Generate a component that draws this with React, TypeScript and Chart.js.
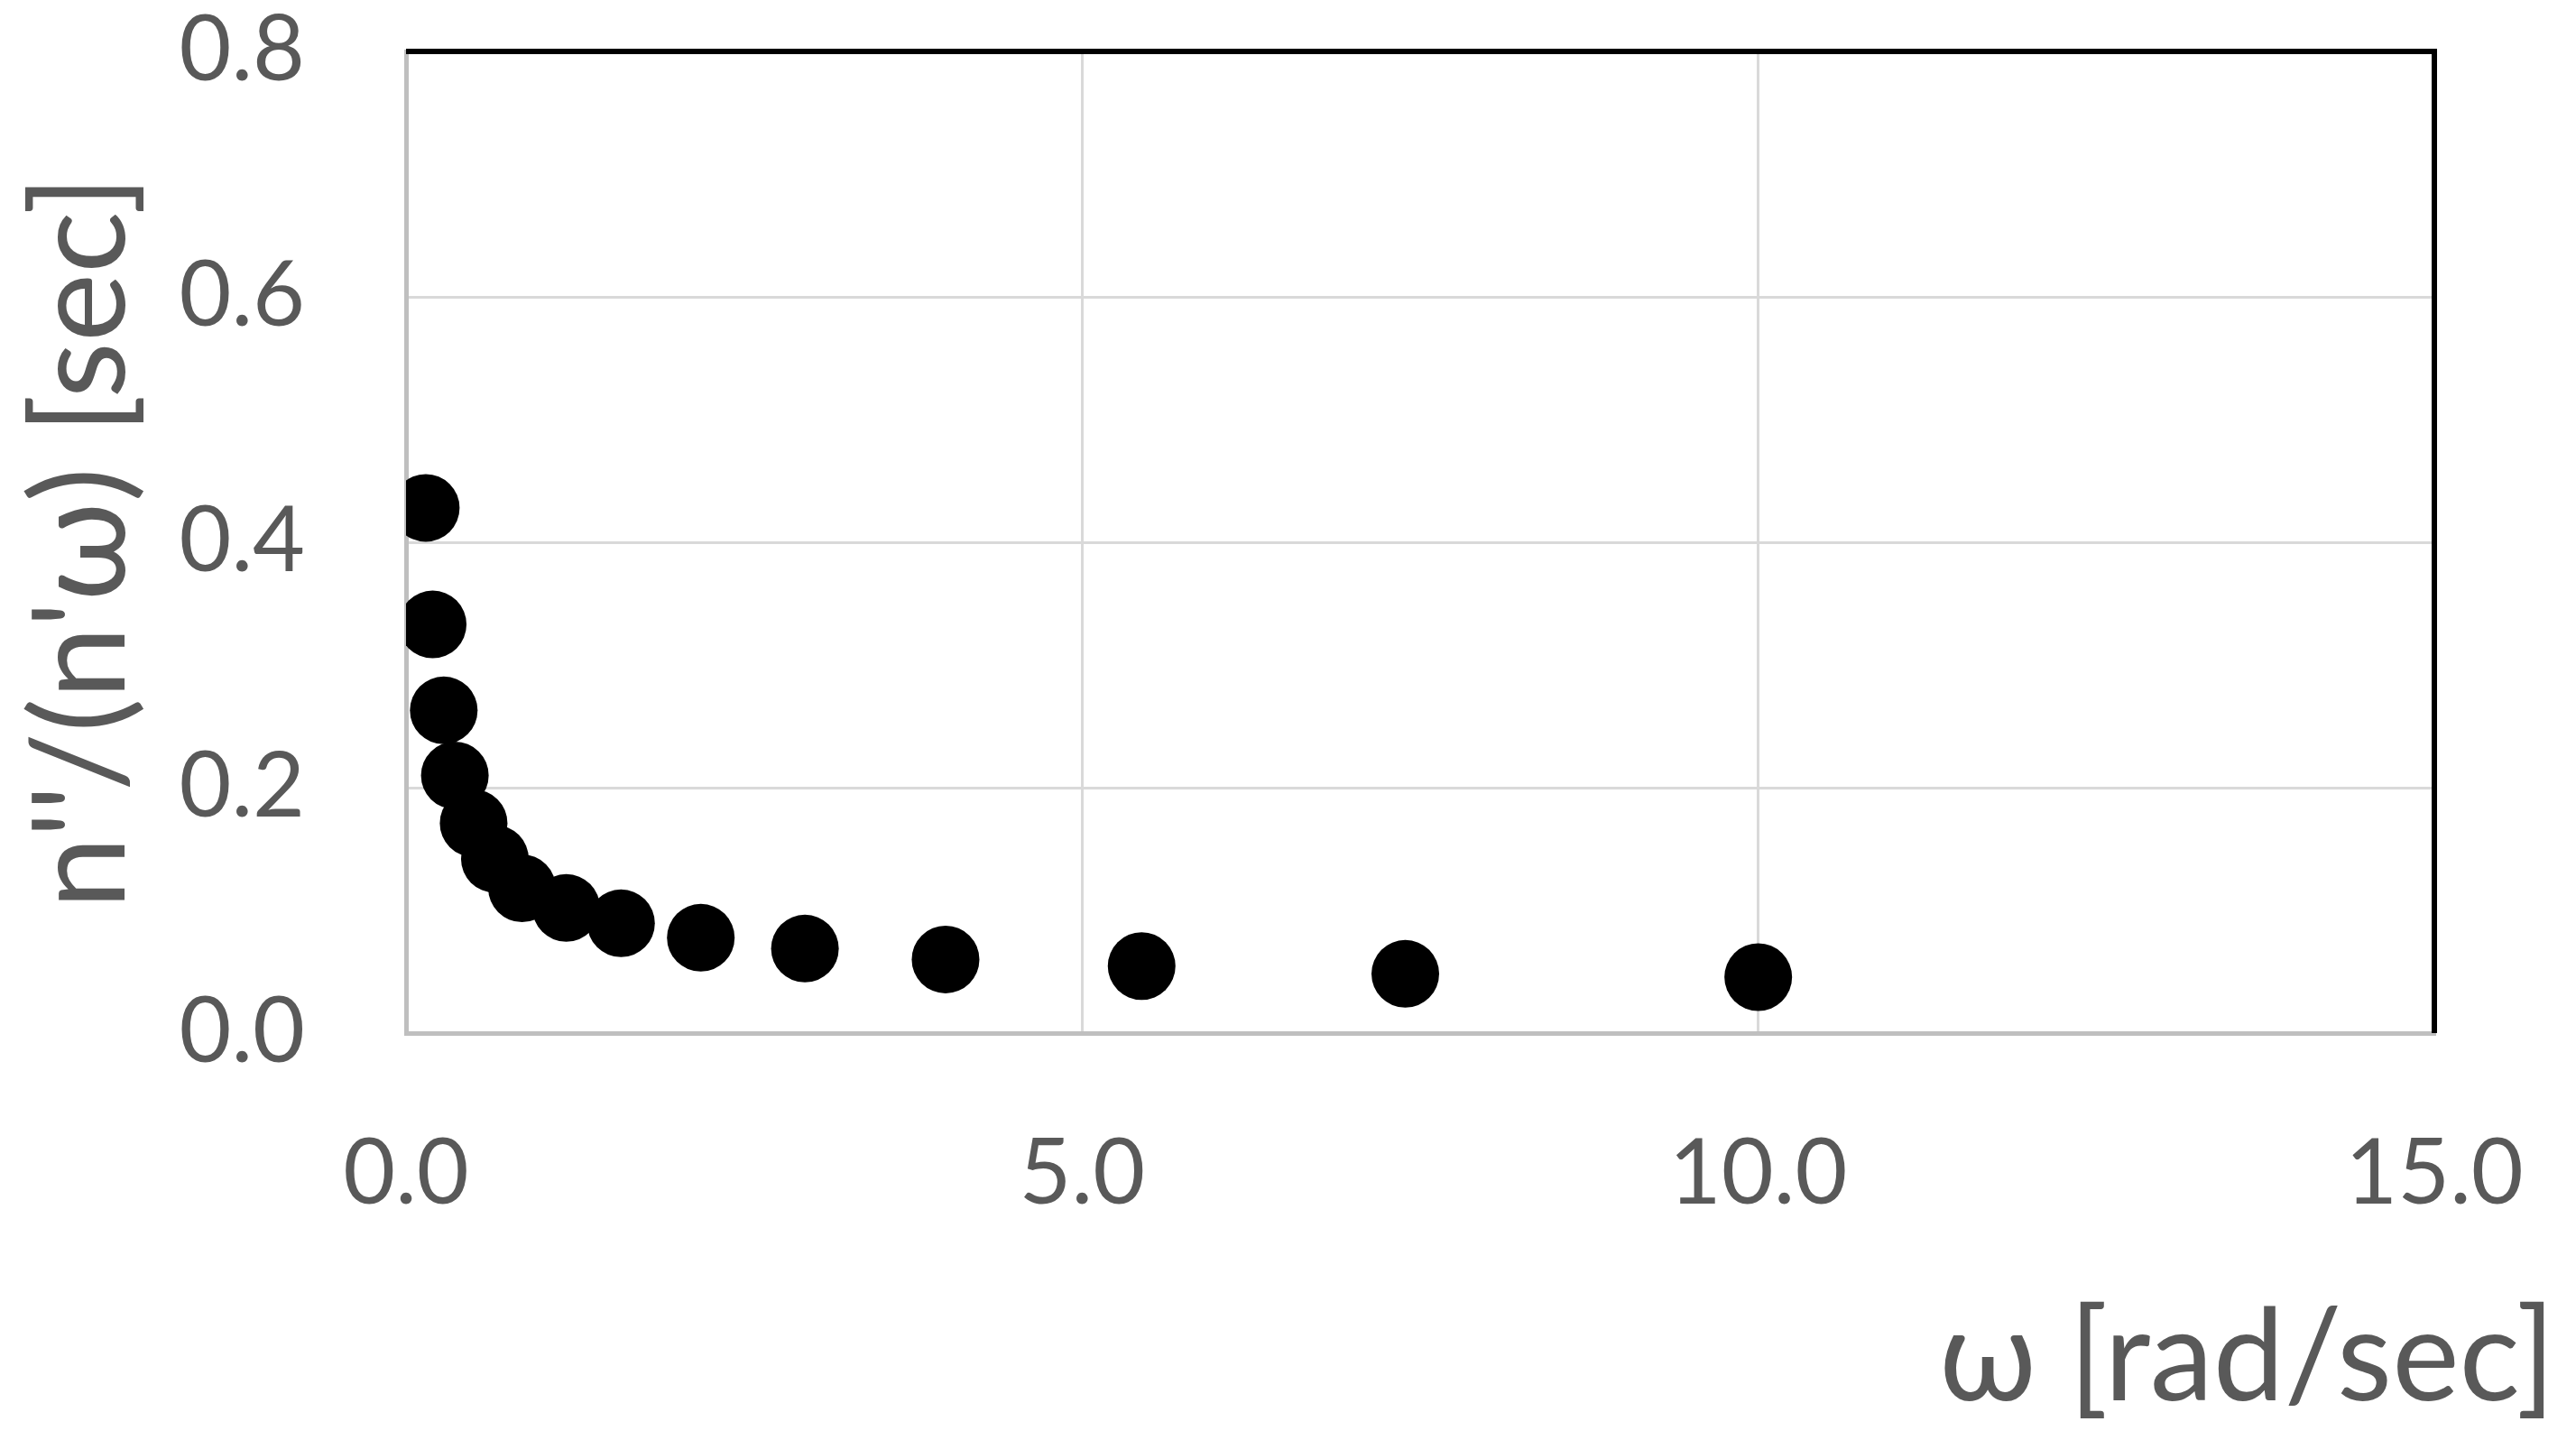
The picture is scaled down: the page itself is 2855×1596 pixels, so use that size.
import { useEffect, useRef } from 'react'
import { Chart, ChartConfiguration, registerables } from 'chart.js'

Chart.register(...registerables)

// angular frequency [rad/sec]
const omega = [0.146, 0.197, 0.279, 0.361, 0.5, 0.657, 0.858, 1.185, 1.59, 2.18, 2.95, 3.99, 5.44, 7.39, 10.0]
// n''/(n'ω) [sec]
const ratio = [0.428, 0.333, 0.263, 0.21, 0.171, 0.142, 0.118, 0.102, 0.0895, 0.0777, 0.0689, 0.06, 0.0546, 0.0483, 0.0456]

const xTitle = 'ω [rad/sec]'
const yTitle = "n''/(n'ω) [sec]"

const FONT = 'Lato, "Open Sans", sans-serif'
const TEXT = '#595959'

// top and right frame lines + x title placed at the bottom right corner
const framePlugin = {
  id: 'frame',
  afterDraw(chart: Chart) {
    const { ctx, chartArea } = chart
    ctx.save()
    ctx.strokeStyle = '#000000'
    ctx.lineWidth = 6
    ctx.beginPath()
    ctx.moveTo(chartArea.left, chartArea.top)
    ctx.lineTo(chartArea.right, chartArea.top)
    ctx.lineTo(chartArea.right, chartArea.bottom)
    ctx.stroke()

    ctx.fillStyle = TEXT
    ctx.font = `141px ${FONT}`
    ctx.textAlign = 'right'
    ctx.textBaseline = 'alphabetic'
    ctx.fillText(xTitle, chart.width - 23, 1552)
    ctx.restore()
  },
}

export default function App() {
  const canvasRef = useRef<HTMLCanvasElement>(null)
  const chartRef = useRef<Chart | null>(null)

  useEffect(() => {
    document.body.style.margin = '0'
    if (!canvasRef.current) return
    const ctx = canvasRef.current.getContext('2d')
    if (!ctx) return

    if (chartRef.current) chartRef.current.destroy()

    const config: ChartConfiguration = {
      type: 'scatter',
      data: {
        datasets: [
          {
            label: yTitle,
            data: omega.map((x, i) => ({ x, y: ratio[i] })),
            backgroundColor: '#000000',
            borderWidth: 0,
            pointRadius: 37.5,
            pointHoverRadius: 37.5,
            showLine: false,
          },
        ],
      },
      options: {
        responsive: true,
        maintainAspectRatio: false,
        animation: false,
        layout: { padding: { left: 0, right: 157, top: 57, bottom: 0 } },
        plugins: {
          legend: { display: false },
          tooltip: { enabled: false },
        },
        scales: {
          x: {
            type: 'linear',
            min: 0,
            max: 15,
            grid: { color: '#d9d9d9', lineWidth: 3, drawTicks: false },
            border: { color: '#bfbfbf', width: 5 },
            ticks: {
              stepSize: 5,
              padding: 97,
              color: TEXT,
              font: { family: FONT, size: 100 },
              maxRotation: 0,
              callback: (v) => Number(v).toFixed(1),
            },
            afterFit: (s: any) => {
              s.height = 451
              s.paddingLeft = 0
              s.paddingRight = 0
            },
          },
          y: {
            type: 'linear',
            min: 0,
            max: 0.8,
            grid: { color: '#d9d9d9', lineWidth: 3, drawTicks: false },
            border: { color: '#bfbfbf', width: 5 },
            ticks: {
              stepSize: 0.2,
              padding: 112,
              color: TEXT,
              font: { family: FONT, size: 100 },
              callback: (v) => Number(v).toFixed(1),
            },
            title: {
              display: true,
              text: yTitle,
              color: TEXT,
              font: { family: FONT, size: 144 },
              padding: { top: 5, bottom: 0 },
            },
            afterFit: (s: any) => {
              s.width = 450
              s.paddingTop = 0
              s.paddingBottom = 0
            },
          },
        },
      },
      plugins: [framePlugin],
    }

    chartRef.current = new Chart(ctx, config)

    return () => {
      chartRef.current?.destroy()
    }
  }, [])

  return (
    <div style={{ position: 'relative', width: 2855, height: 1596, background: '#ffffff' }}>
      <canvas ref={canvasRef} />
    </div>
  )
}
